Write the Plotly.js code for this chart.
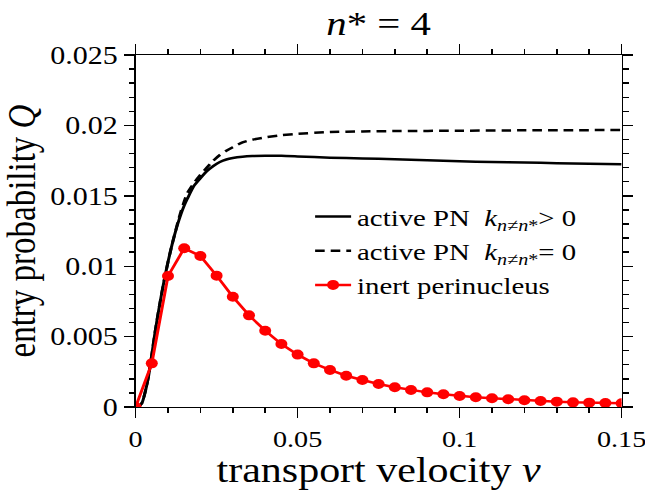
<!DOCTYPE html>
<html>
<head>
<meta charset="utf-8">
<script src="https://cdn.plot.ly/plotly-3.0.1.min.js"></script>
<style>
html,body{margin:0;padding:0;background:#fff;overflow:hidden;}
#wrap{width:645px;height:490px;overflow:hidden;}
#chart{width:538px;height:490px;transform:scaleX(1.2);transform-origin:0 0;}
</style>
</head>
<body>
<div id="wrap"><div id="chart"></div></div>
<script>
// Active PN, k > 0 (solid)
const solidV = [0, 0.001, 0.002, 0.003, 0.004, 0.005, 0.006, 0.007, 0.008, 0.009, 0.01, 0.011, 0.012, 0.013, 0.014, 0.015, 0.016, 0.018, 0.02, 0.022, 0.024, 0.026, 0.028, 0.03, 0.033, 0.036, 0.04, 0.045, 0.05, 0.06, 0.07, 0.08, 0.09, 0.1, 0.11, 0.12, 0.13, 0.14, 0.15];
const solidQ = [0, 0.00005, 0.0003, 0.0011, 0.0022, 0.0037, 0.0053, 0.0067, 0.0080, 0.0092, 0.0103, 0.0113, 0.0122, 0.0130, 0.0137, 0.0143, 0.0148, 0.0157, 0.01625, 0.01675, 0.01712, 0.0174, 0.01758, 0.01768, 0.01777, 0.01782, 0.01785, 0.01784, 0.0178, 0.01771, 0.01765, 0.0176, 0.01752, 0.01745, 0.0174, 0.01736, 0.01732, 0.01728, 0.01724];
// Active PN, k = 0 (dashed)
const dashV = [0, 0.001, 0.002, 0.003, 0.004, 0.005, 0.006, 0.007, 0.008, 0.009, 0.01, 0.011, 0.012, 0.013, 0.014, 0.015, 0.016, 0.018, 0.02, 0.022, 0.024, 0.026, 0.028, 0.03, 0.033, 0.036, 0.04, 0.045, 0.05, 0.06, 0.07, 0.08, 0.1, 0.12, 0.15];
const dashQ = [0, 0.00005, 0.0003, 0.0011, 0.0022, 0.0037, 0.0053, 0.0067, 0.0080, 0.0092, 0.0103, 0.0113, 0.0122, 0.0131, 0.0139, 0.0146, 0.0152, 0.0159, 0.0165, 0.0170, 0.0175, 0.0179, 0.0182, 0.01845, 0.0188, 0.01898, 0.01915, 0.0193, 0.0194, 0.01953, 0.01957, 0.0196, 0.01962, 0.01965, 0.01967];
// Inert perinucleus (red, markers)
const inertV = [0, 0.005, 0.01, 0.015, 0.02, 0.025, 0.03, 0.035, 0.04, 0.045, 0.05, 0.055, 0.06, 0.065, 0.07, 0.075, 0.08, 0.085, 0.09, 0.095, 0.1, 0.105, 0.11, 0.115, 0.12, 0.125, 0.13, 0.135, 0.14, 0.145, 0.15];
const inertQ = [0, 0.0031, 0.0093, 0.01127, 0.01072, 0.00933, 0.00783, 0.00651, 0.00542, 0.00447, 0.00372, 0.0031, 0.00263, 0.00222, 0.00192, 0.00163, 0.0014, 0.00121, 0.00104, 0.0009, 0.00078, 0.00069, 0.00062, 0.00055, 0.00048, 0.00043, 0.00038, 0.00033, 0.00031, 0.00028, 0.00026];

const xTicks = [0, 0.05, 0.1, 0.15];
const xTickText = ['0', '0.05', '0.1', '0.15'];
const yTicks = [0, 0.005, 0.01, 0.015, 0.02, 0.025];
const yTickText = ['0', '0.005', '0.01', '0.015', '0.02', '0.025'];

const serif = 'Liberation Serif';

const traces = [
  {x: solidV, y: solidQ, mode: 'lines', line: {color: '#000', width: 2.5, shape: 'spline', smoothing: 0.6},
   name: 'active PN  <i>k</i><sub><i>n≠n</i>*</sub>> 0'},
  {x: dashV, y: dashQ, mode: 'lines', line: {color: '#000', width: 2.5, dash: '8px,5px', shape: 'spline', smoothing: 0.6},
   name: 'active PN  <i>k</i><sub><i>n≠n</i>*</sub>= 0'},
  {x: inertV, y: inertQ, mode: 'lines+markers', line: {color: '#ff0000', width: 2.5},
   marker: {color: '#ff0000', size: 10}, name: 'inert perinucleus'}
];

const axisCommon = {
  showline: true, linecolor: '#000', linewidth: 1.4, mirror: 'allticks',
  ticks: 'outside', tickwidth: 1.4, tickcolor: '#000',
  showgrid: false, zeroline: false, ticklabeloverflow: 'allow'
};

const layout = {
  width: 538, height: 490,
  margin: {l: 112.5, r: 19.5, t: 55, b: 83},
  paper_bgcolor: '#fff', plot_bgcolor: '#fff',
  font: {family: serif, color: '#000'},
  title: {text: '<i>n</i>* = 4', font: {family: serif, size: 34, color: '#000'},
          xref: 'paper', x: 0.5, xanchor: 'center', yref: 'container', y: 0.953, yanchor: 'middle'},
  xaxis: Object.assign({}, axisCommon, {
    range: [0, 0.15], tickvals: xTicks, ticktext: xTickText, ticklen: 10,
    tickfont: {family: serif, size: 23.5, color: '#000'},
    minor: {dtick: 0.01, ticklen: 5, tickwidth: 1.4, tickcolor: '#000', ticks: 'outside'},
    title: {text: 'transport velocity <i>v</i>', font: {family: serif, size: 35, color: '#000'}, standoff: 5}
  }),
  yaxis: Object.assign({}, axisCommon, {
    range: [0, 0.025], tickvals: yTicks, ticktext: yTickText, ticklen: 8.5,
    tickfont: {family: serif, size: 25, color: '#000'},
    minor: {dtick: 0.001, ticklen: 4.5, tickwidth: 1.4, tickcolor: '#000', ticks: 'outside'},
    title: {text: 'entry probability <i>Q</i>', font: {family: serif, size: 33, color: '#000'}, standoff: 6}
  }),
  showlegend: true,
  legend: {x: 0.357, y: 0.604, xanchor: 'left', yanchor: 'top', bgcolor: 'rgba(0,0,0,0)',
           font: {family: serif, size: 24, color: '#000'}, tracegroupgap: 0, itemwidth: 30}
};

Plotly.newPlot('chart', traces, layout, {displayModeBar: false, staticPlot: true});
</script>
</body>
</html>
